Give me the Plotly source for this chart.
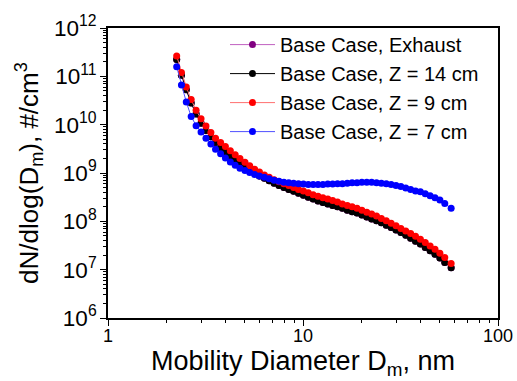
import plotly.graph_objects as go

# Mobility diameter (nm)
diameter_nm = [2.25, 2.38, 2.52, 2.67, 2.83, 3.00, 3.18, 3.37, 3.56, 3.78,
               4.00, 4.24, 4.49, 4.75, 5.04, 5.33, 5.65, 5.98, 6.34, 6.71,
               7.11, 7.53, 7.98, 8.45, 8.95, 9.48, 10.05, 10.64, 11.27, 11.94,
               12.65, 13.40, 14.19, 15.03, 15.92, 16.87, 17.86, 18.92, 20.04, 21.23,
               22.49, 23.82, 25.23, 26.73, 28.31, 29.99, 31.77, 33.65, 35.65, 37.76,
               40.00, 42.36, 44.87, 47.53, 50.35, 53.33, 57.50]

# log10 of dN/dlog(Dm)
log_z14 = [11.35, 11.02, 10.72, 10.45, 10.22, 10.03, 9.88, 9.75, 9.63, 9.52,
           9.43, 9.34, 9.26, 9.19, 9.12, 9.06, 9.00, 8.94, 8.89, 8.84,
           8.79, 8.74, 8.70, 8.66, 8.62, 8.58, 8.54, 8.50, 8.46, 8.42,
           8.39, 8.36, 8.33, 8.30, 8.27, 8.23, 8.20, 8.17, 8.13, 8.09,
           8.05, 8.01, 7.97, 7.92, 7.87, 7.82, 7.77, 7.71, 7.65, 7.59,
           7.53, 7.46, 7.39, 7.32, 7.24, 7.15, 7.04]

log_z9 = [11.42, 11.08, 10.78, 10.52, 10.30, 10.12, 9.97, 9.84, 9.72, 9.63,
          9.55, 9.46, 9.38, 9.30, 9.22, 9.15, 9.08, 9.02, 8.96, 8.91,
          8.86, 8.82, 8.78, 8.74, 8.70, 8.66, 8.63, 8.59, 8.55, 8.52,
          8.49, 8.46, 8.43, 8.40, 8.36, 8.33, 8.30, 8.27, 8.23, 8.19,
          8.15, 8.11, 8.06, 8.01, 7.96, 7.91, 7.85, 7.80, 7.75, 7.69,
          7.63, 7.56, 7.49, 7.42, 7.34, 7.25, 7.13]

log_z7 = [11.20, 10.82, 10.47, 10.17, 9.98, 9.85, 9.72, 9.60, 9.49, 9.40,
          9.31, 9.23, 9.16, 9.10, 9.05, 9.01, 8.97, 8.94, 8.91, 8.88,
          8.85, 8.83, 8.81, 8.80, 8.79, 8.78, 8.77, 8.76, 8.76, 8.76,
          8.76, 8.77, 8.77, 8.78, 8.78, 8.79, 8.80, 8.80, 8.81, 8.81,
          8.81, 8.80, 8.79, 8.78, 8.76, 8.74, 8.72, 8.69, 8.66, 8.63,
          8.61, 8.57, 8.53, 8.49, 8.44, 8.37, 8.27]

# Exhaust curve is hidden beneath the Z = 14 cm curve in the picture
log_exhaust = list(log_z14)

series_names = ["Base Case, Exhaust", "Base Case, Z = 14 cm",
                "Base Case, Z = 9 cm", "Base Case, Z = 7 cm"]
series_logs = [log_exhaust, log_z14, log_z9, log_z7]
marker_colors = ["#800080", "#000000", "#ff0000", "#0000ff"]
line_colors = ["#c060c0", "#000000", "#ff7070", "#5050ff"]

FONT = "Liberation Sans, Arial, sans-serif"

fig = go.Figure()
for name, logs, mc, lc in zip(series_names, series_logs, marker_colors, line_colors):
    fig.add_trace(go.Scatter(
        x=diameter_nm, y=[10 ** v for v in logs], name=name,
        mode="lines+markers",
        line=dict(color=lc, width=1),
        marker=dict(color=mc, size=7),
    ))

axis_common = dict(
    type="log", showgrid=False, zeroline=False, automargin=False,
    showline=True, linecolor="black", linewidth=1.5, mirror=True,
    ticks="outside", ticklen=6, tickwidth=1.2, tickcolor="black",
    dtick=1,
    tickfont=dict(family=FONT, size=18, color="black"),
    minor=dict(ticks="outside", ticklen=3, tickwidth=1, tickcolor="black", dtick="D1", showgrid=False),
)

fig.update_layout(
    width=517, height=381,
    margin=dict(l=108, r=19, t=28, b=63),
    paper_bgcolor="white", plot_bgcolor="white",
    font=dict(family=FONT, color="black"),
    showlegend=True,
    legend=dict(x=0.30, xanchor="left", y=1.01, yanchor="top",
                bgcolor="rgba(0,0,0,0)", font=dict(family=FONT, size=20, color="black"),
                tracegroupgap=0, itemwidth=45),
    xaxis=dict(axis_common, range=[0, 2], exponentformat="none",
               ticklabelstandoff=-5,
               title=dict(text="Mobility Diameter D<sub>m</sub>, nm",
                          font=dict(family=FONT, size=27, color="black"), standoff=2)),
    yaxis=dict(axis_common, range=[6, 12], exponentformat="power", showexponent="all",
               title=dict(text="dN/dlog(D<sub>m</sub>), #/cm<sup>3</sup>",
                          font=dict(family=FONT, size=26, color="black"), standoff=8)),
)

fig.write_html("out.html", config={"displayModeBar": False},
               post_script="document.body.style.margin='0';")
